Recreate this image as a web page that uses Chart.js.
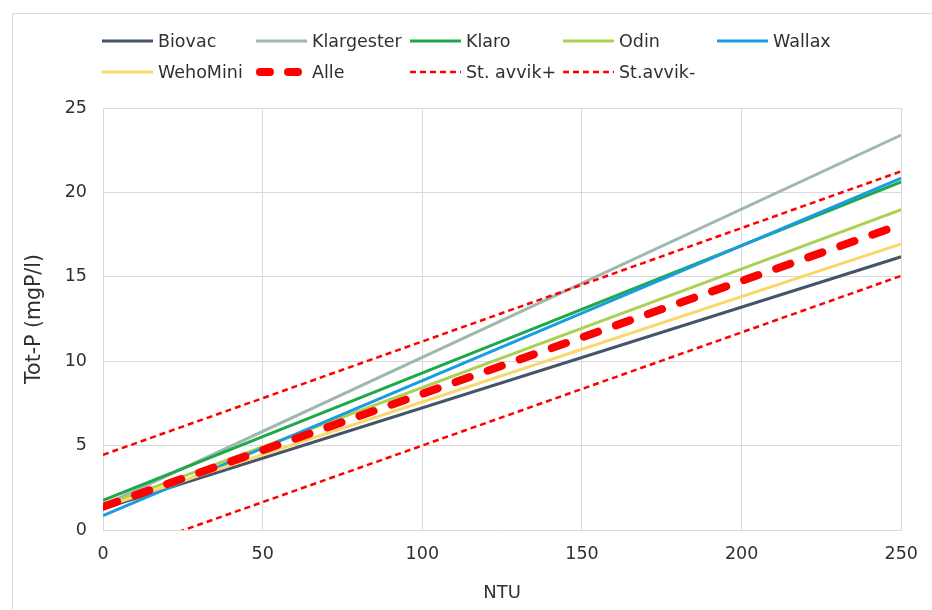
<!DOCTYPE html>
<html>
<head>
<meta charset="utf-8">
<script src="https://cdn.jsdelivr.net/npm/chart.js@4.4.1/dist/chart.umd.min.js"></script>
<style>
  html, body { margin: 0; padding: 0; background: #fff; }
  #wrap { position: relative; width: 932px; height: 610px; }
</style>
</head>
<body>
<div id="wrap"><canvas id="chart" width="932" height="610"></canvas></div>
<script>
// x positions of the trend lines (NTU)
const ntu = [0, 250];

// Tot-P (mgP/l) at each end
const biovac = [1.27, 16.19];
const klargester = [1.45, 23.4];
const klaro = [1.75, 20.62];
const odin = [1.42, 18.98];
const wallax = [0.85, 20.85];
const wehoMini = [1.35, 16.95];
const alle = [1.38, 18.1];
const stAvvikPlus = [4.45, 21.25];
const stAvvikMinus = [-1.7, 15.06];

const xTicks = [0, 50, 100, 150, 200, 250];
const yTicks = [0, 5, 10, 15, 20, 25];

const FONT = "'DejaVu Sans', Verdana, sans-serif";
const TEXT = '#303030';
const GRID = '#d9d9d9';

// legend grid (5 columns, 2 rows)
const legendX = [102, 256, 410, 563, 717];
const legendY = [41, 72];

function pts(values) {
  return ntu.map((x, i) => ({ x: x, y: values[i] }));
}

function solid(label, values, color) {
  return { label, data: pts(values), borderColor: color, borderWidth: 3, pointRadius: 0, tension: 0 };
}

const datasets = [
  solid('Biovac', biovac, '#44546a'),
  solid('Klargester', klargester, '#9fb8ae'),
  solid('Klaro', klaro, '#1fa84a'),
  solid('Odin', odin, '#acd052'),
  solid('Wallax', wallax, '#1a9de0'),
  solid('WehoMini', wehoMini, '#fad766'),
  { label: 'Alle', data: pts(alle), borderColor: '#ff0000', borderWidth: 8, borderDash: [15, 19],
    borderCapStyle: 'round', pointRadius: 0, legendDash: [10, 18] },
  { label: 'St. avvik+', data: pts(stAvvikPlus), borderColor: '#ff0000', borderWidth: 2.5, borderDash: [6, 4],
    pointRadius: 0 },
  { label: 'St.avvik-', data: pts(stAvvikMinus), borderColor: '#ff0000', borderWidth: 2.5, borderDash: [6, 4],
    pointRadius: 0 },
];
// later series on top, like the original
datasets.forEach((d, i) => { d.order = datasets.length - i; });

const frame = {
  id: 'frame',
  beforeDraw(chart) {
    const ctx = chart.ctx;
    ctx.save();
    ctx.strokeStyle = GRID;
    ctx.lineWidth = 1;
    ctx.beginPath();
    ctx.moveTo(12.5, 610);
    ctx.lineTo(12.5, 13.5);
    ctx.lineTo(932, 13.5);
    ctx.stroke();
    ctx.restore();
  }
};

const gridLegend = {
  id: 'gridLegend',
  afterDraw(chart) {
    const ctx = chart.ctx;
    chart.data.datasets.forEach((ds, i) => {
      const x = legendX[i % 5], y = legendY[Math.floor(i / 5)];
      const cap = ds.borderCapStyle || 'butt';
      const inset = cap === 'round' ? ds.borderWidth / 2 : 0;
      ctx.save();
      ctx.strokeStyle = ds.borderColor;
      ctx.lineWidth = ds.borderWidth;
      ctx.lineCap = cap;
      ctx.setLineDash(ds.legendDash || ds.borderDash || []);
      ctx.beginPath();
      ctx.moveTo(x + inset, y);
      ctx.lineTo(x + 51 - inset, y);
      ctx.stroke();
      ctx.setLineDash([]);
      ctx.fillStyle = TEXT;
      ctx.font = '17.5px ' + FONT;
      ctx.textBaseline = 'middle';
      ctx.textAlign = 'left';
      ctx.fillText(ds.label, x + 56, y + 1);
      ctx.restore();
    });
  }
};

new Chart(document.getElementById('chart'), {
  type: 'line',
  data: { datasets },
  options: {
    responsive: false,
    animation: false,
    layout: { padding: { top: 108, right: 27, left: 0, bottom: 0 } },
    plugins: { legend: { display: false }, tooltip: { enabled: false } },
    scales: {
      x: {
        type: 'linear',
        min: 0,
        max: 250,
        afterBuildTicks: (s) => { s.ticks = xTicks.map(v => ({ value: v })); },
        afterFit: (s) => { s.height = 80; },
        grid: { color: GRID, drawTicks: false },
        border: { color: GRID },
        ticks: { padding: 14, color: TEXT, font: { family: FONT, size: 17.5 } },
        title: { display: true, text: 'NTU', color: TEXT, padding: { top: 0, bottom: 6 },
          font: { family: FONT, size: 18 } }
      },
      y: {
        type: 'linear',
        min: 0,
        max: 25,
        afterBuildTicks: (s) => { s.ticks = yTicks.map(v => ({ value: v })); },
        afterFit: (s) => { s.width = 103; },
        grid: { color: GRID, drawTicks: false },
        border: { color: GRID },
        ticks: { padding: 16, color: TEXT, font: { family: FONT, size: 17.5 } },
        title: { display: true, text: 'Tot-P (mgP/l)', color: TEXT, padding: { top: 22, bottom: 0 },
          font: { family: FONT, size: 20.5 } }
      }
    }
  },
  plugins: [frame, gridLegend]
});
</script>
</body>
</html>
